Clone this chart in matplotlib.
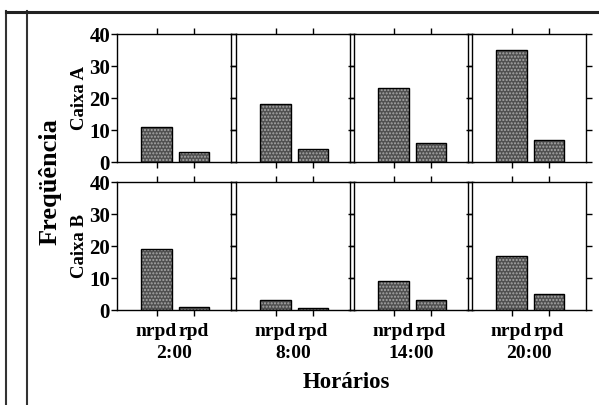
import numpy as np
import matplotlib
matplotlib.use('Agg')
import matplotlib.pyplot as plt
from matplotlib.lines import Line2D

plt.rcParams['font.family'] = ['Liberation Serif', 'DejaVu Serif']
plt.rcParams['font.weight'] = 'bold'
plt.rcParams['hatch.linewidth'] = 1.0

# dados
horarios = ['2:00', '8:00', '14:00', '20:00']
tipos = ['nrpd', 'rpd']
caixas = ['Caixa A', 'Caixa B']
caixa_a = [[11, 3], [18, 4], [23, 6], [35, 7]]
caixa_b = [[19, 1], [3, 0.5], [9, 3], [17, 5]]
yticks = [0, 10, 20, 30, 40]

fig = plt.figure(figsize=(5.99, 4.05), dpi=100)
W, H = 599.0, 405.0

col_x = [117, 236, 354, 472]
col_w = 114
row_y = [34, 182]   # topo de cada linha (pixels)
row_h = 128

x = np.arange(len(tipos))
for r, dados in enumerate([caixa_a, caixa_b]):
    for c, vals in enumerate(dados):
        ax = fig.add_axes([col_x[c] / W, 1 - (row_y[r] + row_h) / H, col_w / W, row_h / H])
        # preenchimento pontilhado + contorno preto
        ax.bar(x, vals, width=0.8, color='#505050', edgecolor='#a8a8a8', hatch='.....', lw=0)
        ax.bar(x, vals, width=0.8, fill=False, edgecolor='black', lw=1.0)
        ax.set_xlim(-1.05, 1.98)
        ax.set_ylim(0, 40)
        ax.set_yticks(yticks)
        ax.set_xticks(x)
        ax.tick_params(direction='out', length=4, width=1, top=True, right=True,
                       labelsize=15, pad=1)
        for s in ax.spines.values():
            s.set_linewidth(1.0)
        if c == 0:
            ax.set_yticklabels([str(v) for v in yticks], fontweight='bold')
            ax.set_ylabel(caixas[r], fontsize=13.5, fontweight='bold')
            ax.yaxis.set_label_coords(-0.25, 0.5)
        else:
            ax.set_yticklabels([])
        if r == 1:
            ax.set_xticklabels(tipos, fontweight='bold', fontsize=14)
            ax.tick_params(axis='x', pad=5)
            ax.set_xlabel(horarios[c], fontsize=14, fontweight='bold')
            ax.xaxis.set_label_coords(0.5, -0.27)
        else:
            ax.set_xticklabels([])

fig.text(50 / W, 1 - 182 / H, 'Freqüência', rotation=90, ha='center', va='center',
         fontsize=19, fontweight='bold')
fig.text(346 / W, 1 - 382 / H, 'Horários', ha='center', va='center',
         fontsize=16.5, fontweight='bold')

# moldura
fig.add_artist(Line2D([6 / W, 6 / W], [0, 1 - 11 / H], color='#333333', lw=1.5))
fig.add_artist(Line2D([27 / W, 27 / W], [0, 1 - 11 / H], color='#333333', lw=1.5))
fig.add_artist(Line2D([6 / W, 1], [1 - 11.5 / H, 1 - 11.5 / H], color='#222222', lw=2.2))

fig.savefig('out.png', dpi=100)
